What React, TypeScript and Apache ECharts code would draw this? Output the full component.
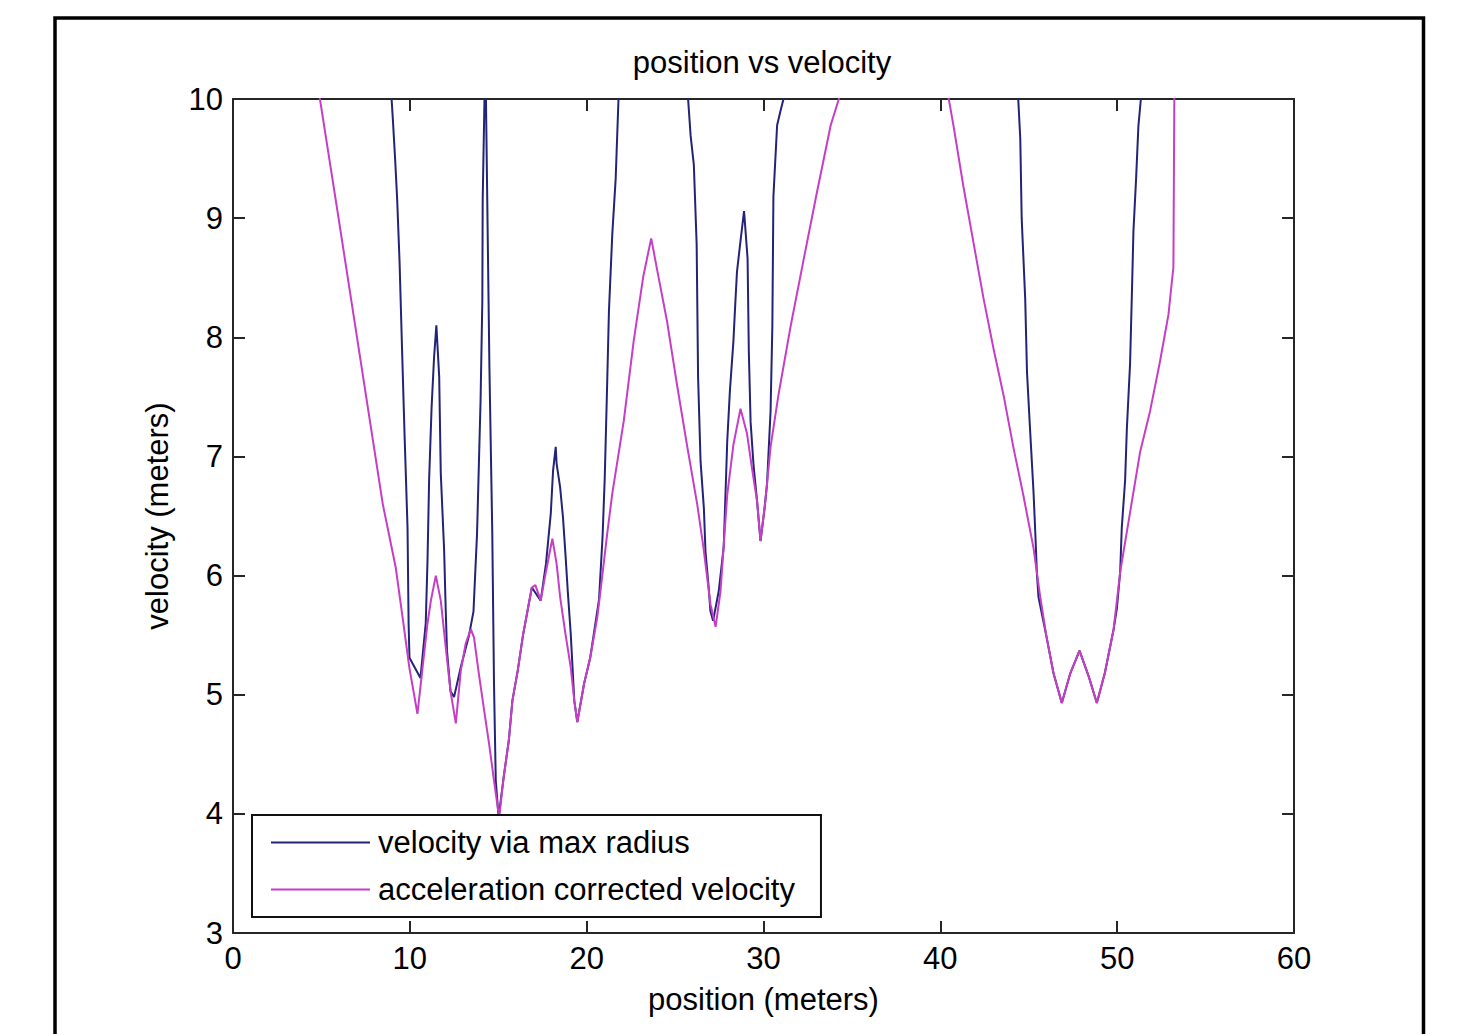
import React, { useEffect, useRef } from "react";
import * as echarts from "echarts";

const chartTitle = "position vs velocity";
const xAxisTitle = "position (meters)";
const yAxisTitle = "velocity (meters)";
const seriesNames = ["velocity via max radius", "acceleration corrected velocity"];

// velocity via max radius (values above 10 leave the axes and are clipped)
const radiusPosition = [
  8.8, 9.04, 9.17, 9.28, 9.42, 9.56, 9.7, 9.87, 9.93, 9.98, 10.6, 10.9, 11.0, 11.09, 11.23, 11.37, 11.5,
  11.66, 11.75, 11.94, 12.03, 12.1, 12.3, 12.5, 12.88, 13.35, 13.6, 13.8, 14.0, 14.1, 14.12, 14.27, 14.37,
  14.5, 14.66, 14.76, 14.86, 15.02, 15.3, 15.6, 15.8, 16.1, 16.4, 16.9, 17.4, 17.7, 17.97, 18.1, 18.25,
  18.3, 18.5, 18.66, 18.8, 18.94, 19.1, 19.2, 19.3, 19.47, 19.85, 20.2, 20.7, 20.9, 21.02, 21.13, 21.26,
  21.45, 21.64, 21.8, 22.0, 23.8, 25.55, 25.88, 26.06, 26.22, 26.3, 26.44, 26.63, 26.72, 26.9, 27.0,
  27.15, 27.47, 27.75, 27.85, 27.95, 28.1, 28.3, 28.4, 28.5, 28.7, 28.9, 29.1, 29.17, 29.27, 29.44, 29.64,
  29.83, 30.05, 30.2, 30.4, 30.5, 30.56, 30.77, 30.96, 31.13, 31.4, 38.0, 44.3, 44.52, 44.6, 44.8, 44.9,
  45.08, 45.27, 45.37, 45.46, 45.55, 46.0, 46.4, 46.87, 47.35, 47.87, 48.4, 48.85, 49.3, 49.8, 49.98,
  50.17, 50.26, 50.45, 50.55, 50.73, 50.83, 50.92, 51.07, 51.2, 51.34, 51.55, 53.3,
];
const radiusVelocity = [
  10.4, 9.83, 9.49, 9.17, 8.63, 7.9, 7.19, 6.4, 5.6, 5.31, 5.14, 5.6, 6.13, 6.8, 7.41, 7.83, 8.1,
  7.67, 6.86, 6.21, 5.71, 5.37, 5.03, 4.98, 5.23, 5.5, 5.7, 6.35, 7.47, 8.31, 9.15, 10.4, 9.25,
  7.75, 6.38, 5.09, 4.28, 3.97, 4.3, 4.62, 4.95, 5.2, 5.5, 5.9, 5.79, 6.1, 6.52, 6.88, 7.08,
  6.94, 6.74, 6.49, 6.18, 5.85, 5.51, 5.23, 4.95, 4.77, 5.09, 5.31, 5.8, 6.33, 6.81, 7.44, 8.22,
  8.87, 9.33, 10.0, 10.6, 12.0, 10.4, 9.69, 9.45, 8.78, 7.67, 6.96, 6.56, 6.2, 5.9, 5.7,
  5.62, 5.87, 6.24, 6.68, 7.13, 7.55, 7.97, 8.27, 8.55, 8.81, 9.06, 8.66, 7.88, 7.29, 6.92, 6.62,
  6.29, 6.55, 6.77, 7.38, 8.09, 9.18, 9.78, 9.9, 10.0, 10.5, 12.0, 10.3, 9.67, 9.0, 8.32, 7.71,
  7.21, 6.7, 6.36, 6.02, 5.82, 5.49, 5.18, 4.93, 5.18, 5.37, 5.15, 4.93, 5.18, 5.55, 5.72,
  6.03, 6.4, 6.8, 7.24, 7.78, 8.35, 8.89, 9.33, 9.77, 10.0, 10.5, 12.0,
];

// acceleration corrected velocity
const correctedPosition = [
  4.6, 5.97, 8.47, 9.2, 9.59, 9.97, 10.43, 10.7, 11.0, 11.19, 11.47, 11.75, 12.03, 12.3, 12.6, 12.88,
  13.16, 13.45, 13.63, 13.9, 14.2, 14.48, 14.76, 15.05, 15.3, 15.6, 15.8, 16.1, 16.4, 16.9, 17.1, 17.4,
  17.68, 18.06, 18.3, 18.5, 18.8, 19.1, 19.3, 19.47, 19.85, 20.2, 20.6, 20.9, 21.16, 21.45, 22.1, 22.66,
  23.2, 23.65, 23.98, 24.55, 25.1, 25.69, 26.25, 26.6, 27.0, 27.29, 27.57, 27.95, 28.3, 28.7, 29.07,
  29.36, 29.64, 29.83, 30.1, 30.4, 30.85, 31.53, 32.28, 33.0, 33.8, 34.26, 34.6, 37.5, 40.3, 40.75,
  41.3, 41.88, 42.45, 43.0, 43.58, 44.14, 44.7, 45.27, 45.65, 46.0, 46.4, 46.87, 47.35, 47.87, 48.4,
  48.85, 49.3, 49.8, 50.17, 50.73, 51.3, 51.86, 52.4, 52.9, 53.18, 53.25,
];
const correctedVelocity = [
  10.3, 9.0, 6.6, 6.07, 5.65, 5.23, 4.84, 5.2, 5.6, 5.79, 6.0, 5.79, 5.4, 5.03, 4.76, 5.2,
  5.43, 5.55, 5.48, 5.18, 4.87, 4.59, 4.28, 3.97, 4.3, 4.62, 4.95, 5.2, 5.5, 5.9, 5.92, 5.79,
  6.02, 6.31, 6.1, 5.82, 5.51, 5.23, 4.95, 4.77, 5.09, 5.31, 5.65, 6.02, 6.35, 6.69, 7.3, 7.97,
  8.51, 8.83, 8.57, 8.13, 7.61, 7.08, 6.6, 6.24, 5.76, 5.57, 5.87, 6.68, 7.1, 7.4, 7.19,
  6.89, 6.62, 6.29, 6.62, 7.08, 7.52, 8.09, 8.66, 9.2, 9.78, 10.0, 10.3, 11.5, 10.15, 9.77,
  9.27, 8.79, 8.32, 7.91, 7.51, 7.07, 6.67, 6.23, 5.82, 5.49, 5.18, 4.93, 5.18, 5.37, 5.15,
  4.93, 5.18, 5.55, 6.03, 6.53, 7.04, 7.38, 7.78, 8.19, 8.59, 10.5,
];

const xTicks = { min: 0, max: 60, interval: 10 };
const yTicks = { min: 3, max: 10, interval: 1 };

const FONT = "'Liberation Sans', Arial, Helvetica, sans-serif";
const AXIS_COLOR = "#262626";
const BLUE = "#232378";
const MAGENTA = "#c63ec6";

function pairs(xs: number[], ys: number[]) {
  return xs.map((x, i) => [x, ys[i]]);
}

export default function App() {
  const ref = useRef<HTMLDivElement>(null);

  useEffect(() => {
    if (!ref.current) return;
    const chart = echarts.init(ref.current, null, { renderer: "svg" });

    const axisLine = { show: true, onZero: false, lineStyle: { color: AXIS_COLOR, width: 2 } };
    const axisTick = { show: true, inside: true, length: 12, lineStyle: { color: AXIS_COLOR, width: 2 } };
    const labelStyle = { fontSize: 31, color: "#000", fontFamily: FONT };

    chart.setOption({
      animation: false,
      backgroundColor: "#fff",
      title: {
        text: chartTitle,
        left: 762,
        top: 47,
        padding: 0,
        textAlign: "center",
        textStyle: { fontSize: 31, fontWeight: "normal", color: "#000", fontFamily: FONT },
      },
      grid: { left: 233, top: 99, width: 1061, height: 834, containLabel: false },
      legend: {
        data: seriesNames,
        orient: "vertical",
        left: 252,
        top: 815,
        padding: [12, 26, 12, 19],
        itemGap: 16,
        itemWidth: 99,
        itemHeight: 2,
        icon: "rect",
        backgroundColor: "#fff",
        borderColor: "#111",
        borderWidth: 2,
        borderRadius: 0,
        textStyle: { fontSize: 31, lineHeight: 31, color: "#000", fontFamily: FONT, padding: [0, 0, 0, 3] },
      },
      xAxis: [
        {
          type: "value",
          ...xTicks,
          position: "bottom",
          axisLine,
          axisTick,
          axisLabel: { ...labelStyle, margin: 10 },
          splitLine: { show: false },
          name: xAxisTitle,
          nameLocation: "middle",
          nameGap: 51,
          nameTextStyle: labelStyle,
        },
        {
          type: "value",
          ...xTicks,
          position: "top",
          axisLine,
          axisTick,
          axisLabel: { show: false },
          splitLine: { show: false },
        },
      ],
      yAxis: [
        {
          type: "value",
          ...yTicks,
          position: "left",
          axisLine,
          axisTick,
          axisLabel: { ...labelStyle, margin: 10 },
          splitLine: { show: false },
          name: yAxisTitle,
          nameLocation: "middle",
          nameGap: 60,
          nameRotate: 90,
          nameTextStyle: labelStyle,
        },
        {
          type: "value",
          ...yTicks,
          position: "right",
          axisLine,
          axisTick,
          axisLabel: { show: false },
          splitLine: { show: false },
        },
      ],
      series: [
        {
          name: seriesNames[0],
          type: "line",
          xAxisIndex: 0,
          yAxisIndex: 0,
          data: pairs(radiusPosition, radiusVelocity),
          symbol: "none",
          clip: true,
          color: BLUE,
          lineStyle: { color: BLUE, width: 2 },
        },
        {
          name: seriesNames[1],
          type: "line",
          xAxisIndex: 0,
          yAxisIndex: 0,
          data: pairs(correctedPosition, correctedVelocity),
          symbol: "none",
          clip: true,
          color: MAGENTA,
          lineStyle: { color: MAGENTA, width: 2 },
        },
      ],
      graphic: [
        {
          type: "rect",
          silent: true,
          shape: { x: 55, y: 18, width: 1368.5, height: 1040 },
          style: { fill: "none", stroke: "#000", lineWidth: 3.5 },
        },
      ],
    });

    return () => chart.dispose();
  }, []);

  return (
    <div
      ref={ref}
      style={{ position: "absolute", left: 0, top: 0, width: 1457, height: 1034, background: "#fff" }}
    />
  );
}
